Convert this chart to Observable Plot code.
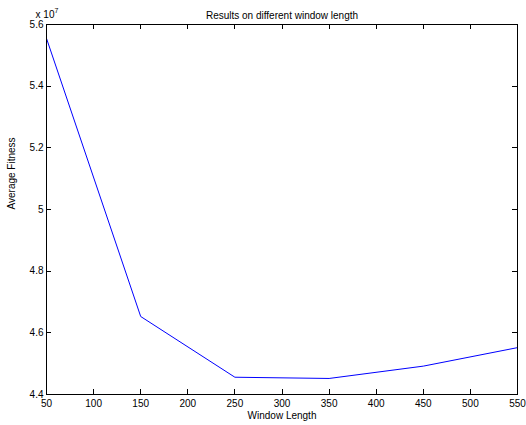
<!DOCTYPE html>
<html>
<head>
<meta charset="utf-8">
<script src="https://cdn.jsdelivr.net/npm/d3@7"></script>
<script src="https://cdn.jsdelivr.net/npm/@observablehq/plot@0.6"></script>
<style>
  html, body { margin: 0; padding: 0; background: #fff; }
  svg { font-family: "Liberation Sans", Arial, sans-serif; }
</style>
</head>
<body>
<div id="chart"></div>
<script>
const windowLength = [50, 150, 250, 350, 450, 550];
const avgFitness = [5.555, 4.653, 4.456, 4.452, 4.492, 4.552]; // x 10^7
const xTicks = [50, 100, 150, 200, 250, 300, 350, 400, 450, 500, 550];
const yTicks = [4.4, 4.6, 4.8, 5.0, 5.2, 5.4, 5.6];
const yTickLabels = ["4.4", "4.6", "4.8", "5", "5.2", "5.4", "5.6"];
const titleText = "Results on different window length";
const xLabel = "Window Length";
const yLabel = "Average Fitness";

const W = 526, H = 425;
const mL = 46, mT = 24, mR = 9, mB = 31;
const tk = 5;

const data = windowLength.map((x, i) => ({x, y: avgFitness[i]}));

const chart = Plot.plot({
  width: W, height: H,
  marginLeft: mL, marginTop: mT, marginRight: mR, marginBottom: mB,
  style: {fontSize: "10px", background: "#fff"},
  x: {domain: [50, 550]},
  y: {domain: [4.4, 5.6]},
  marks: [
    Plot.line(data, {x: "x", y: "y", stroke: "#0000ff", strokeWidth: 1}),
    Plot.frame({stroke: "#000", strokeWidth: 1}),
    Plot.axisX(xTicks, {tickSize: 0, tickPadding: 5, fill: "#000", label: null, fontSize: 10}),
    Plot.axisY(yTicks, {tickSize: 0, tickPadding: 3, fill: "#000", label: null, fontSize: 10,
      tickFormat: (d) => yTickLabels[yTicks.indexOf(d)]}),
    Plot.text([titleText], {frameAnchor: "top", dy: -13, fontSize: 10, fill: "#000", text: d => d}),
    Plot.text([xLabel], {frameAnchor: "bottom", dy: 24, fontSize: 10, fill: "#000", text: d => d}),
    Plot.text([yLabel], {frameAnchor: "left", dx: -35, rotate: -90, fontSize: 10, fill: "#000", text: d => d})
  ]
});
document.getElementById("chart").appendChild(chart);

const svg = d3.select(chart);
const sx = chart.scale("x"), sy = chart.scale("y");
const x0 = sx.apply(50), x1 = sx.apply(550), y0 = sy.apply(4.4), y1 = sy.apply(5.6);

// inward tick marks on all four sides, positioned by Plot's scales
const g = svg.append("g").attr("stroke", "#000").attr("stroke-width", 1);
xTicks.forEach(v => {
  const px = Math.round(sx.apply(v)) + 0.5;
  g.append("line").attr("x1", px).attr("x2", px).attr("y1", y0).attr("y2", y0 - tk);
  g.append("line").attr("x1", px).attr("x2", px).attr("y1", y1).attr("y2", y1 + tk);
});
yTicks.forEach(v => {
  const py = Math.round(sy.apply(v)) + 0.5;
  g.append("line").attr("y1", py).attr("y2", py).attr("x1", x0).attr("x2", x0 + tk);
  g.append("line").attr("y1", py).attr("y2", py).attr("x1", x1).attr("x2", x1 - tk);
});

// exponent label "x 10^7" at top-left of axes
const ex = svg.append("text")
  .attr("x", mL + 1).attr("y", mT - 6)
  .attr("font-size", 10).attr("fill", "#000");
ex.append("tspan").text("x 10");
ex.append("tspan").attr("dy", -5).attr("font-size", 7).text("7");
</script>
</body>
</html>
